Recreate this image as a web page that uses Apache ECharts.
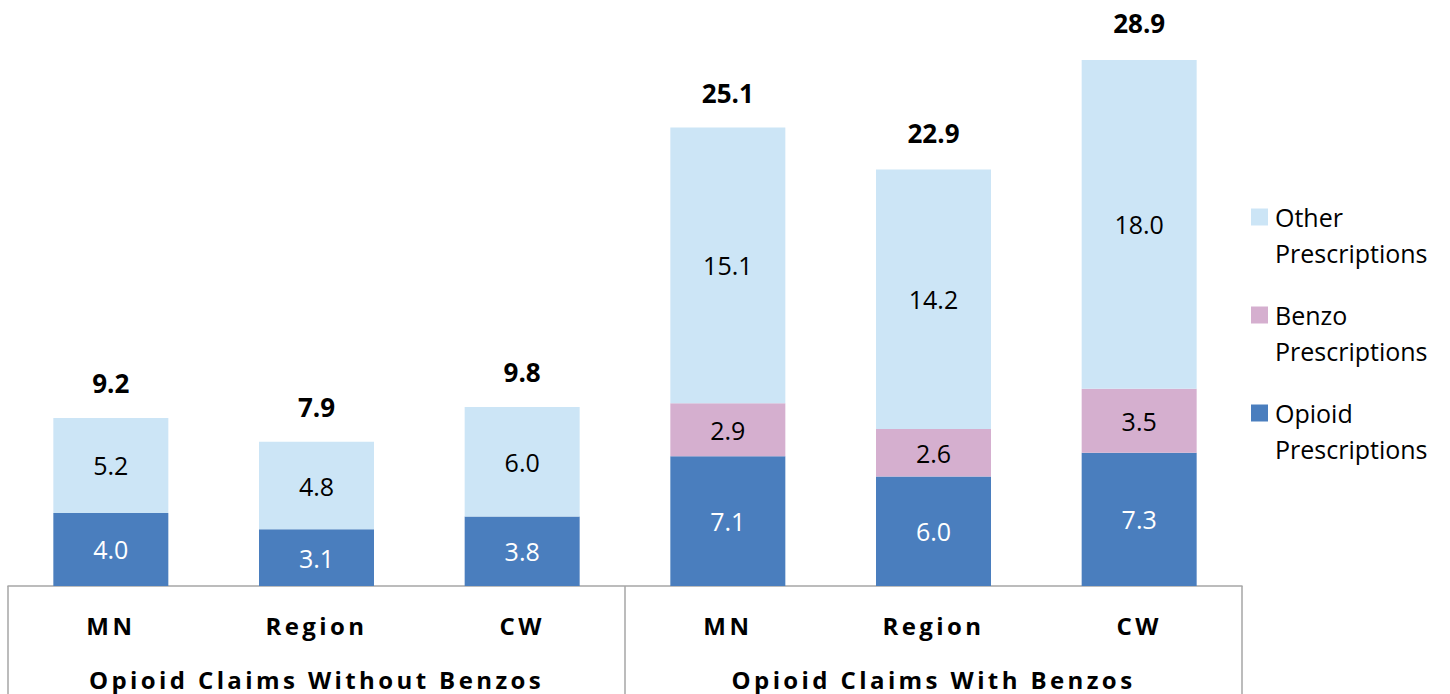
<!DOCTYPE html>
<html>
<head>
<meta charset="utf-8">
<script src="https://cdn.jsdelivr.net/npm/echarts@6/dist/echarts.min.js"></script>
<style>
  html, body { margin: 0; padding: 0; background: #fff; }
  #chart { width: 1450px; height: 694px; }
  /* spaced-out bold axis labels, as in the original */
  #chart text[style*="sans-serif"] { letter-spacing: 3.4px; }
</style>
</head>
<body>
<div id="chart"></div>
<script>
const categories = ['MN', 'Region', 'CW', 'MN', 'Region', 'CW'];
const groups = ['Opioid Claims Without Benzos', 'Opioid Claims With Benzos'];
const opioid = [4.0, 3.1, 3.8, 7.1, 6.0, 7.3];
const benzo = [null, null, null, 2.9, 2.6, 3.5];
const other = [5.2, 4.8, 6.0, 15.1, 14.2, 18.0];
const totals = [9.2, 7.9, 9.8, 25.1, 22.9, 28.9];
const seriesNames = ['Opioid Prescriptions', 'Benzo Prescriptions', 'Other Prescriptions'];
const colors = ['#4A7EBE', '#D5AFCF', '#CCE5F6'];

const FONT = 'Open Sans';
const chart = echarts.init(document.getElementById('chart'), null, { renderer: 'svg' });

function stackSeries(name, data, color, labelColor) {
  return {
    name: name,
    type: 'bar',
    stack: 'total',
    data: data,
    barWidth: 115,
    itemStyle: { color: color },
    label: {
      show: true,
      position: 'inside',
      color: labelColor,
      fontFamily: FONT,
      fontSize: 25,
      formatter: p => p.value == null ? '' : Number(p.value).toFixed(1)
    }
  };
}

chart.setOption({
  animation: false,
  backgroundColor: '#fff',
  grid: { left: 8, right: 208, top: 38, bottom: 108, containLabel: false },
  legend: {
    data: [seriesNames[2], seriesNames[1], seriesNames[0]],
    orient: 'vertical',
    left: 1251,
    top: 163,
    padding: 0,
    itemGap: -10,
    itemWidth: 17,
    itemHeight: 17,
    icon: 'rect',
    selectedMode: false,
    formatter: n => '\n' + n.replace(' ', '\n'),
    textStyle: {
      fontFamily: FONT,
      fontSize: 25,
      color: '#000',
      lineHeight: 36,
      padding: [0, 0, 0, 2]
    }
  },
  xAxis: [
    {
      type: 'category',
      data: categories,
      position: 'bottom',
      axisLine: { show: true, lineStyle: { color: '#A6A6A6', width: 1.5 } },
      axisTick: { show: false },
      axisLabel: {
        interval: 0,
        margin: 27,
        color: '#000',
        fontWeight: 'bold',
        fontSize: 24,
        fontFamily: "'Open Sans', sans-serif"
      }
    },
    {
      type: 'category',
      data: groups,
      position: 'bottom',
      axisLine: { show: false },
      axisTick: { show: true, length: 110, lineStyle: { color: '#A6A6A6', width: 1.5 } },
      axisLabel: {
        interval: 0,
        margin: 81,
        color: '#000',
        fontWeight: 'bold',
        fontSize: 24,
        fontFamily: "'Open Sans', sans-serif"
      }
    }
  ],
  yAxis: {
    type: 'value',
    min: 0,
    max: 30,
    show: false,
    splitLine: { show: false }
  },
  series: [
    stackSeries(seriesNames[0], opioid, colors[0], '#fff'),
    stackSeries(seriesNames[1], benzo, colors[1], '#000'),
    stackSeries(seriesNames[2], other, colors[2], '#000'),
    {
      name: 'Total',
      type: 'bar',
      data: totals,
      barWidth: 115,
      barGap: '-100%',
      silent: true,
      z: 1,
      itemStyle: { color: 'rgba(0,0,0,0)' },
      label: {
        show: true,
        position: 'top',
        distance: 22,
        color: '#000',
        fontWeight: 'bold',
        fontSize: 26,
        fontFamily: FONT,
        formatter: p => Number(p.value).toFixed(1)
      }
    }
  ]
});
</script>
</body>
</html>
